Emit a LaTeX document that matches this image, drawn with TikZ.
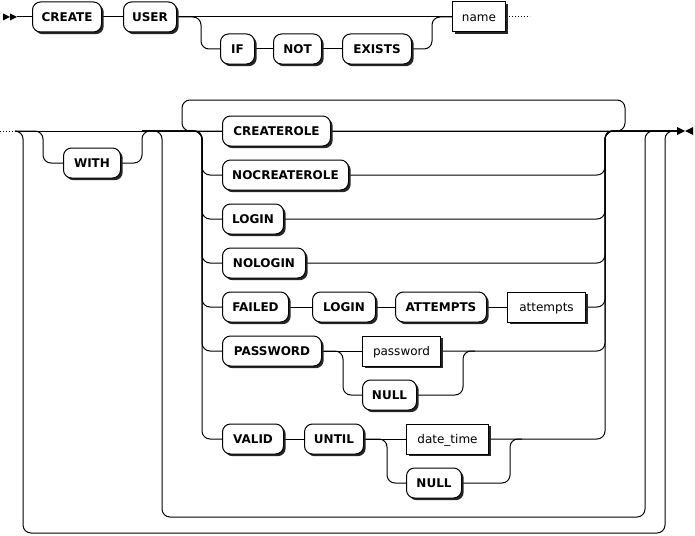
\documentclass[tikz,border=0pt]{standalone}
\usepackage{fontspec}
\setmainfont{DejaVu Sans}
\usetikzlibrary{shadows,backgrounds}
\begin{document}
\begin{tikzpicture}[x=1pt,y=-1pt,
  kw/.style={draw, line width=1pt, rounded corners=8pt, fill=white,
    font=\bfseries\fontsize{12}{14}\selectfont, minimum height=30pt,
    inner sep=0pt, anchor=west, text height=8.75pt, text depth=0pt,
    drop shadow={shadow xshift=2.2pt, shadow yshift=-2.2pt, fill=black!85, opacity=1}},
  nt/.style={kw, rounded corners=0pt, font=\fontsize{12}{14}\selectfont},
  line/.style={line width=1pt},
  rail/.style={line width=1pt, rounded corners=8pt},
  dots/.style={line width=1pt, dash pattern=on 1pt off 2pt},
  tri/.style={fill=black}]
\useasboundingbox (0,0) rectangle (695,535);
% row 1 nodes
\node[kw, minimum width=69pt] (create) at (32,17) {CREATE};
\node[kw, minimum width=53pt] (user) at (123,17) {USER};
\node[kw, minimum width=34pt] (if) at (220,49) {IF};
\node[kw, minimum width=48pt] (not) at (273,49) {NOT};
\node[kw, minimum width=69pt] (exists) at (342,49) {EXISTS};
\node[nt, minimum width=53pt] (name) at (452,17) {name};
% row 2 nodes
\node[kw, minimum width=57pt] (with) at (63,163) {WITH};
\node[kw, minimum width=108pt] (createrole) at (222,131) {CREATEROLE};
\node[kw, minimum width=126pt] (nocreaterole) at (222,175) {NOCREATEROLE};
\node[kw, minimum width=61pt] (login) at (222,219) {LOGIN};
\node[kw, minimum width=83pt] (nologin) at (222,263) {NOLOGIN};
\node[kw, minimum width=66pt] (failed) at (222,307) {FAILED};
\node[kw, minimum width=63pt] (login2) at (312,307) {LOGIN};
\node[kw, minimum width=91pt] (attemptskw) at (395,307) {ATTEMPTS};
\node[nt, minimum width=78pt] (attempts) at (507,307) {attempts};
\node[kw, minimum width=99pt] (password) at (222,351) {PASSWORD};
\node[nt, minimum width=78pt] (passwordv) at (362,351) {password};
\node[kw, minimum width=54pt] (null1) at (362,395) {NULL};
\node[kw, minimum width=61pt] (valid) at (222,439) {VALID};
\node[kw, minimum width=59pt] (until) at (304,439) {UNTIL};
\node[nt, minimum width=82pt] (datetime) at (406,439) {date\_time};
\node[kw, minimum width=55pt] (null2) at (406,483) {NULL};
% coordinates
\coordinate (startm) at (17,17);
\coordinate (r1) at (432,17);
\coordinate (cont1) at (530,17);
\coordinate (c2start) at (0,131);
\coordinate (cont2) at (15,131);
\coordinate (endm) at (677,131);
\coordinate (oL) at (23,533);
\coordinate (oR) at (665,533);
\coordinate (wL) at (43,131);
\coordinate (wR) at (142,131);
\coordinate (iL) at (162,517);
\coordinate (iR) at (645,517);
\coordinate (tL) at (182,100);
\coordinate (tR) at (625,100);
\coordinate (chL) at (202,131);
\coordinate (chR) at (605,131);
\coordinate (pj) at (463,351);
\coordinate (vj) at (510,439);
\begin{pgfonlayer}{background}
% row 1
\draw[line] (startm) -- (create.west);
\draw[line] (create) -- (user);
\draw[line] (user) -- (name);
\draw[rail] (user.east) -- ++(24,0) |- (if.west);
\draw[line] (if) -- (not);
\draw[line] (not) -- (exists);
\draw[rail] (exists.east) -| (r1) -- (name.west);
\draw[dots] (name.east) -- (cont1);
% row 2
\draw[dots] (c2start) -- (cont2);
\draw[line] (cont2) -- (createrole.west);
\draw[line] (createrole.east) -- (endm);
\draw[rail] (cont2) -| (oL) -- (oR) |- (endm);
\draw[rail] (cont2) -- (wL) |- (with.west);
\draw[rail] (with.east) -| (wR) -- ++(10,0);
\draw[rail] (wR) -| (iL) -- (iR) |- (endm);
\draw[rail] (createrole.east) -| (tR) -- (tL) |- (createrole.west);
\foreach \n in {nocreaterole,login,nologin,failed,password,valid}
  \draw[rail] (wR) -- (chL) |- (\n.west);
\foreach \n in {nocreaterole,login,nologin,attempts,passwordv,datetime}
  \draw[rail] (\n.east) -| (chR) -- (endm);
\draw[line] (failed) -- (login2);
\draw[line] (login2) -- (attemptskw);
\draw[line] (attemptskw) -- (attempts);
\draw[line] (password) -- (passwordv);
\draw[rail] (password.east) -- ++(21,0) |- (null1.west);
\draw[rail] (null1.east) -| (pj) -- ++(12,0);
\draw[line] (valid) -- (until);
\draw[line] (until) -- (datetime);
\draw[rail] (until.east) -- ++(23,0) |- (null2.west);
\draw[rail] (null2.east) -| (vj) -- ++(12,0);
\end{pgfonlayer}
% markers
\fill[tri] (3,13.5) -- (10,17) -- (3,20.5) -- cycle;
\fill[tri] (10,13.5) -- (17,17) -- (10,20.5) -- cycle;
\fill[tri] (677,127) -- (685,131) -- (677,135) -- cycle;
\fill[tri] (693,127) -- (685,131) -- (693,135) -- cycle;
\end{tikzpicture}
\end{document}
